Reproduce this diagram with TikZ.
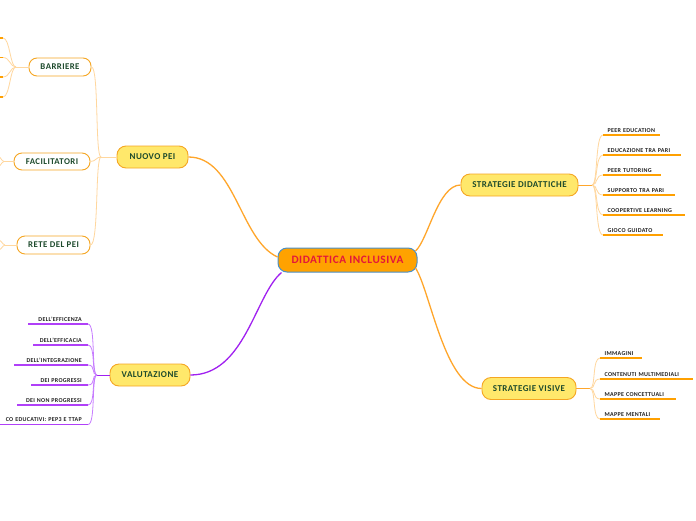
\documentclass[tikz,border=0pt]{standalone}
\usepackage{fontspec}
\setmainfont{Carlito}[LetterSpace=5]
\definecolor{mainorange}{HTML}{FFA62B}
\definecolor{lightorange}{HTML}{FFD79E}
\definecolor{leafline}{HTML}{FFA000}
\definecolor{purplemain}{HTML}{A020F0}
\definecolor{purplelight}{HTML}{C77DFF}
\definecolor{purpleleaf}{HTML}{B040F8}
\definecolor{centralfill}{HTML}{FFA200}
\definecolor{centralborder}{HTML}{4A90C8}
\definecolor{centraltext}{HTML}{E3173A}
\definecolor{yellowfill}{HTML}{FFE86B}
\definecolor{nodeborder}{HTML}{F5A623}
\definecolor{greentext}{HTML}{1D4A2C}
\definecolor{leaftext}{HTML}{222222}
\tikzset{
  central/.style={draw=centralborder, fill=centralfill, line width=1pt, rounded corners=9pt,
    minimum width=139pt, minimum height=24pt, inner sep=0pt, text=centraltext,
    font=\fontsize{11.3}{13}\selectfont\bfseries},
  mainbox/.style={draw=nodeborder, fill=yellowfill, line width=0.9pt, rounded corners=9pt,
    minimum height=22pt, inner sep=0pt, text=greentext, font=\fontsize{9}{11}\selectfont\bfseries},
  subbox/.style={draw=nodeborder, fill=white, line width=0.9pt, rounded corners=8pt,
    minimum height=18pt, inner sep=0pt, text=greentext, font=\fontsize{8.8}{10}\selectfont\bfseries},
  leafr/.style={anchor=south west, inner xsep=4.5pt, inner ysep=2.5pt, align=left, text=leaftext,
    font=\fontsize{6}{7}\selectfont\bfseries},
  leafl/.style={anchor=south east, inner xsep=6pt, inner ysep=2.5pt, align=right, text=leaftext,
    font=\fontsize{6}{7}\selectfont\bfseries},
  mainline/.style={draw=mainorange, line width=1.3pt},
  subline/.style={draw=lightorange, line width=0.8pt},
  uline/.style={draw=leafline, line width=1.4pt},
  pmain/.style={draw=purplemain, line width=1.3pt},
  psub/.style={draw=purplelight, line width=0.8pt},
  puline/.style={draw=purpleleaf, line width=1.4pt},
}
\begin{document}
\begin{tikzpicture}[x=1pt,y=-1pt]
\useasboundingbox (0,0) rectangle (696,520);
\fill[white] (0,0) rectangle (696,520);

% main nodes
\node[central] (c) at (347.5,260) {DIDATTICA INCLUSIVA};
\node[mainbox, minimum width=71pt] (np) at (152.5,157) {NUOVO PEI};
\node[mainbox, minimum width=117pt] (sd) at (519.5,185) {STRATEGIE DIDATTICHE};
\node[mainbox, minimum width=94pt] (sv) at (529,388.5) {STRATEGIE VISIVE};
\node[mainbox, minimum width=80pt] (va) at (150,375) {VALUTAZIONE};

% sub nodes
\node[subbox, minimum width=62pt] (ba) at (60,67) {BARRIERE};
\node[subbox, minimum width=76pt, minimum height=17pt] (fa) at (52,161.5) {FACILITATORI};
\node[subbox, minimum width=73pt] (re) at (53.5,245) {RETE DEL PEI};

% main connectors
\draw[mainline] (np.east) .. controls (235,157) and (240,240) .. ([yshift=3pt]c.west);
\draw[mainline] ([xshift=-2pt,yshift=9pt]c.east) .. controls (428,240) and (438,185) .. (sd.west);
\draw[mainline] ([xshift=-2pt,yshift=-8pt]c.east) .. controls (430,290) and (445,388.5) .. (sv.west);
\draw[pmain] ([xshift=4pt]c.south west) .. controls (255,295) and (245,375) .. (va.east);

% NUOVO PEI branches
\coordinate (npb) at (101,157);
\draw[subline] (np.west) -- (npb);
\draw[subline] (npb) .. controls (95,157) and (99,67) .. (ba.east);
\draw[subline] (npb) .. controls (96,157) and (96,161.5) .. (fa.east);
\draw[subline] (npb) .. controls (95,157) and (99,245) .. (re.east);

% BARRIERE leaves (cut off at left)
\coordinate (bb) at (16,67);
\draw[subline] (ba.west) -- (bb);
\foreach \k/\y in {1/38,2/57.5,3/77,4/97}{
  \coordinate (b\k) at (3,\y);
  \coordinate (b\k e) at (-12,\y);
  \draw[subline] (bb) .. controls (10,67) and (10,\y) .. (b\k);
  \draw[uline] (b\k) -- (b\k e);
}

% FACILITATORI fork
\coordinate (fb) at (4,161.5);
\coordinate (f1) at (-8,154);
\coordinate (f2) at (-8,169);
\draw[subline] (fa.west) -- (fb);
\draw[subline] (fb) .. controls (1,161.5) and (1,154) .. (f1);
\draw[subline] (fb) .. controls (1,161.5) and (1,169) .. (f2);

% RETE DEL PEI fork
\coordinate (rb) at (5,245);
\coordinate (r1) at (-8,238);
\coordinate (r2) at (-8,252);
\draw[subline] (re.west) -- (rb);
\draw[subline] (rb) .. controls (2,245) and (2,238) .. (r1);
\draw[subline] (rb) .. controls (2,245) and (2,252) .. (r2);

% STRATEGIE DIDATTICHE leaves
\coordinate (sdb) at (592,185);
\draw[mainline, line width=1pt] (sd.east) -- (sdb);
\node[leafr, text width=48pt] (l1) at (603,135) {PEER EDUCATION};
\node[leafr, text width=69pt] (l2) at (603,155) {EDUCAZIONE TRA PARI};
\node[leafr, text width=49pt] (l3) at (603,175) {PEER TUTORING};
\node[leafr, text width=63pt] (l4) at (603,195) {SUPPORTO TRA PARI};
\node[leafr, text width=73pt] (l5) at (603,215) {COOPERTIVE LEARNING};
\node[leafr, text width=51pt] (l6) at (603,235) {GIOCO GUIDATO};
\foreach \n in {l1,l2,l3,l4,l5,l6}{
  \draw[subline] (sdb) .. controls ([xshift=6pt]sdb) and ([xshift=-8pt]\n.south west) .. (\n.south west);
  \draw[uline] (\n.south west) -- (\n.south east);
}

% STRATEGIE VISIVE leaves
\coordinate (svb) at (590,388.5);
\draw[mainline, line width=1pt] (sv.east) -- (svb);
\node[leafr, text width=33pt] (m1) at (600,358) {IMMAGINI};
\node[leafr, text width=84pt] (m2) at (600,379) {CONTENUTI MULTIMEDIALI};
\node[leafr, text width=67pt] (m3) at (600,399) {MAPPE CONCETTUALI};
\node[leafr, text width=51pt] (m4) at (600,419) {MAPPE MENTALI};
\foreach \n in {m1,m2,m3,m4}{
  \draw[subline] (svb) .. controls ([xshift=6pt]svb) and ([xshift=-8pt]\n.south west) .. (\n.south west);
  \draw[uline] (\n.south west) -- (\n.south east);
}

% VALUTAZIONE leaves
\coordinate (vb) at (97,375);
\draw[pmain, line width=1pt] (va.west) -- (vb);
\node[leafl, text width=48pt] (v1) at (88,324) {DELL'EFFICENZA};
\node[leafl, text width=43pt] (v2) at (88,345) {DELL'EFFICACIA};
\node[leafl, text width=62pt] (v3) at (88,365) {DELL'INTEGRAZIONE};
\node[leafl, text width=45pt] (v4) at (88,385) {DEI PROGRESSI};
\node[leafl, text width=59pt] (v5) at (88,405) {DEI NON PROGRESSI};
\node[leafl, text width=100pt] (v6) at (88,424.5) {CO EDUCATIVI: PEP3 E TTAP};
\foreach \n in {v1,v2,v3,v4,v5,v6}{
  \draw[psub] (vb) .. controls ([xshift=-6pt]vb) and ([xshift=8pt]\n.south east) .. (\n.south east);
  \draw[puline] (\n.south east) -- (\n.south west);
}
\end{tikzpicture}
\end{document}
